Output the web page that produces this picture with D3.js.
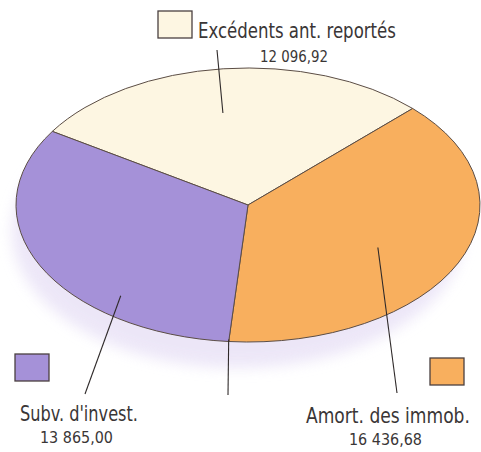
<!DOCTYPE html>
<html>
<head>
<meta charset="utf-8">
<script src="https://cdn.jsdelivr.net/npm/d3@7"></script>
<style>
  body { margin: 0; background: #fff; }
  text { font-family: "Liberation Sans Narrow", "DejaVu Sans Condensed", "Liberation Sans", sans-serif; fill: #3a3636; }
</style>
</head>
<body>
<div id="chart"></div>
<script>
// data
const categories = ["Excédents ant. reportés", "Amort. des immob.", "Subv. d'invest."]
const values = [12096.92, 16436.68, 13865.00]
const valueLabels = ["12 096,92", "16 436,68", "13 865,00"]
const colors = ["#fdf6e2", "#f8af5e", "#a591d8"]

const W = 481, H = 452
const cx = 248, cy = 205, rx = 232, ry = 137

const svg = d3.select("#chart").append("svg")
    .attr("width", W)
    .attr("height", H)

// soft shadow under the disc
const defs = svg.append("defs")
defs.append("filter").attr("id", "blur")
    .attr("x", "-20%").attr("y", "-20%").attr("width", "140%").attr("height", "140%")
  .append("feGaussianBlur").attr("stdDeviation", 7)

svg.append("ellipse")
    .attr("cx", cx - 10).attr("cy", cy + 26)
    .attr("rx", rx - 6).attr("ry", ry)
    .attr("fill", "#e8e1f6")
    .attr("opacity", 0.8)
    .attr("filter", "url(#blur)")

const pie = d3.pie()
    .sort(null)
    .startAngle(-57.5 * Math.PI / 180)
    .endAngle((360 - 57.5) * Math.PI / 180)

const arcs = pie(values)

const arc = d3.arc().innerRadius(0).outerRadius(rx)

const disc = svg.append("g")
    .attr("transform", `translate(${cx},${cy}) scale(1,${ry / rx})`)

disc.selectAll("path")
    .data(arcs)
    .join("path")
    .attr("d", arc)
    .attr("fill", (d, i) => colors[i])
    .attr("stroke", "#5b4d45")
    .attr("stroke-width", 1)
    .attr("vector-effect", "non-scaling-stroke")

// helper: point on the flattened disc at angle a (rad, clockwise from top) and radius r
function onDisc(a, r) {
    return [cx + r * Math.sin(a), cy - r * Math.cos(a) * ry / rx]
}

// leader lines: start angle offset (deg) from slice middle, radius factor, end point
const leaders = [
    { i: 0, da: -3, rf: 0.68, end: [217, 50] },
    { i: 1, da: 4, rf: 0.64, end: [397, 393] },
    { i: 2, da: -24, rf: 0.86, end: [85, 394] }
]

leaders.forEach(l => {
    const d = arcs[l.i]
    const mid = (d.startAngle + d.endAngle) / 2 + l.da * Math.PI / 180
    const p = onDisc(mid, rx * l.rf)
    svg.append("line")
        .attr("x1", p[0]).attr("y1", p[1])
        .attr("x2", l.end[0]).attr("y2", l.end[1])
        .attr("stroke", "#2f2a2a")
        .attr("stroke-width", 1.1)
})

// line hanging from the bottom edge between the two lower slices
const pb = onDisc(arcs[1].endAngle, rx)
svg.append("line")
    .attr("x1", pb[0]).attr("y1", pb[1] - 2)
    .attr("x2", 228).attr("y2", 395)
    .attr("stroke", "#2f2a2a")
    .attr("stroke-width", 1.1)

// squeeze a text horizontally so it spans w pixels (condensed look)
function fitText(x, y, size, w, str) {
    const t = svg.append("text")
        .attr("font-size", size)
        .text(str)
    const k = w / t.node().getComputedTextLength()
    t.attr("transform", `translate(${x},${y}) scale(${k},1)`)
}

// legend boxes + labels
const legend = [
    { box: [158, 11], label: [198, 38, 198], num: [260, 62, 68] },
    { box: [430, 358], label: [306, 423, 164], num: [349, 445, 73] },
    { box: [15, 354], label: [20, 421, 118], num: [40, 443, 73] }
]

legend.forEach((g, i) => {
    svg.append("rect")
        .attr("x", g.box[0]).attr("y", g.box[1])
        .attr("width", 34).attr("height", 27)
        .attr("fill", colors[i])
        .attr("stroke", "#4a4040")
        .attr("stroke-width", 1.3)

    fitText(g.label[0], g.label[1], 22, g.label[2], categories[i])
    fitText(g.num[0], g.num[1], 16, g.num[2], valueLabels[i])
})
</script>
</body>
</html>
